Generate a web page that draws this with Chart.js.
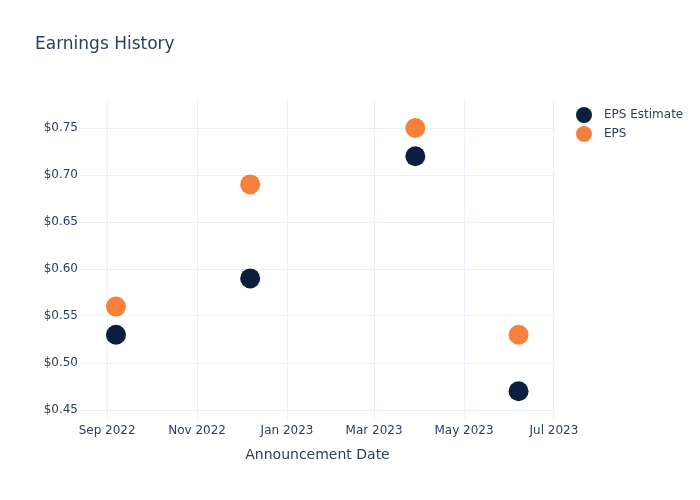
<!DOCTYPE html>
<html>
<head>
<meta charset="utf-8">
<script src="https://cdn.jsdelivr.net/npm/chart.js@4/dist/chart.umd.min.js"></script>
<style>
  html, body { margin: 0; padding: 0; background: #fff; }
  #wrap { width: 700px; height: 500px; }
</style>
</head>
<body>
<div id="wrap"><canvas id="epsChart" width="700" height="500"></canvas></div>
<script>
const announceDates = ['2022-09-07', '2022-12-07', '2023-03-29', '2023-06-07'];
const epsEstimate = [0.53, 0.59, 0.72, 0.47];
const epsActual = [0.56, 0.69, 0.75, 0.53];
const xTickDates = ['2022-09-01', '2022-11-01', '2023-01-01', '2023-03-01', '2023-05-01', '2023-07-01'];
const xTickLabels = ['Sep 2022', 'Nov 2022', 'Jan 2023', 'Mar 2023', 'May 2023', 'Jul 2023'];
const yTicks = [0.45, 0.50, 0.55, 0.60, 0.65, 0.70, 0.75];

const textColor = '#2a3f5f';
const gridColor = '#ebf0f8';
const fontFamily = '"DejaVu Sans", Verdana, sans-serif';

const day = 24 * 3600 * 1000;
const toTime = s => Date.parse(s + 'T00:00:00Z');

function points(values) {
    return values.map((v, i) => ({ x: toTime(announceDates[i]), y: v }));
}

// plotly-like legend off to the right of the plot
const sideLegend = {
    id: 'sideLegend',
    afterDraw(chart) {
        const ctx = chart.ctx;
        ctx.save();
        ctx.font = '12px ' + fontFamily;
        ctx.textBaseline = 'middle';
        chart.data.datasets.forEach((ds, i) => {
            const y = 115 + i * 19;
            ctx.beginPath();
            ctx.arc(584, y, 8, 0, Math.PI * 2);
            ctx.fillStyle = ds.backgroundColor;
            ctx.fill();
            ctx.fillStyle = textColor;
            ctx.fillText(ds.label, 604, y);
        });
        ctx.restore();
    }
};

const ctx = document.getElementById('epsChart').getContext('2d');
new Chart(ctx, {
    type: 'scatter',
    data: {
        datasets: [{
            label: 'EPS Estimate',
            data: points(epsEstimate),
            backgroundColor: '#0c1f3f',
            borderWidth: 0,
            pointRadius: 10,
            pointHoverRadius: 10
        }, {
            label: 'EPS',
            data: points(epsActual),
            backgroundColor: '#f6813a',
            borderWidth: 0,
            pointRadius: 10,
            pointHoverRadius: 10
        }]
    },
    options: {
        responsive: false,
        animation: false,
        events: [],
        layout: {
            padding: { left: 35, right: 145, top: 0, bottom: 0 }
        },
        plugins: {
            legend: { display: false },
            tooltip: { enabled: false },
            title: {
                display: true,
                text: 'Earnings History',
                align: 'start',
                color: textColor,
                font: { family: fontFamily, size: 17, weight: 'normal' },
                padding: { top: 34, bottom: 45.6 }
            }
        },
        scales: {
            x: {
                type: 'linear',
                min: toTime('2022-09-01') - 18.4 * day,
                max: toTime('2023-07-01') + 0.7 * day,
                afterBuildTicks: scale => {
                    scale.ticks = xTickDates.map(d => ({ value: toTime(d) }));
                },
                afterFit: scale => {
                    scale.height = 80;
                    scale.paddingLeft = 0;
                    scale.paddingRight = 0;
                },
                ticks: {
                    color: textColor,
                    font: { family: fontFamily, size: 12 },
                    padding: 4,
                    maxRotation: 0,
                    autoSkip: false,
                    callback: function(value) {
                        const idx = xTickDates.findIndex(d => toTime(d) === value);
                        return idx >= 0 ? xTickLabels[idx] : '';
                    }
                },
                grid: { color: gridColor, drawTicks: false },
                border: { display: false },
                title: {
                    display: true,
                    text: 'Announcement Date',
                    color: textColor,
                    font: { family: fontFamily, size: 14 },
                    padding: { top: 0, bottom: 36 }
                }
            },
            y: {
                min: 0.45 - 10 / 940,
                max: 0.75 + 28 / 940,
                afterBuildTicks: scale => {
                    scale.ticks = yTicks.map(v => ({ value: v }));
                },
                afterFit: scale => {
                    scale.width = 45;
                    scale.paddingTop = 0;
                    scale.paddingBottom = 0;
                },
                ticks: {
                    color: textColor,
                    font: { family: fontFamily, size: 12 },
                    padding: 2,
                    callback: value => '$' + value.toFixed(2)
                },
                grid: { color: gridColor, drawTicks: false },
                border: { display: false }
            }
        }
    },
    plugins: [sideLegend]
});
</script>
</body>
</html>
